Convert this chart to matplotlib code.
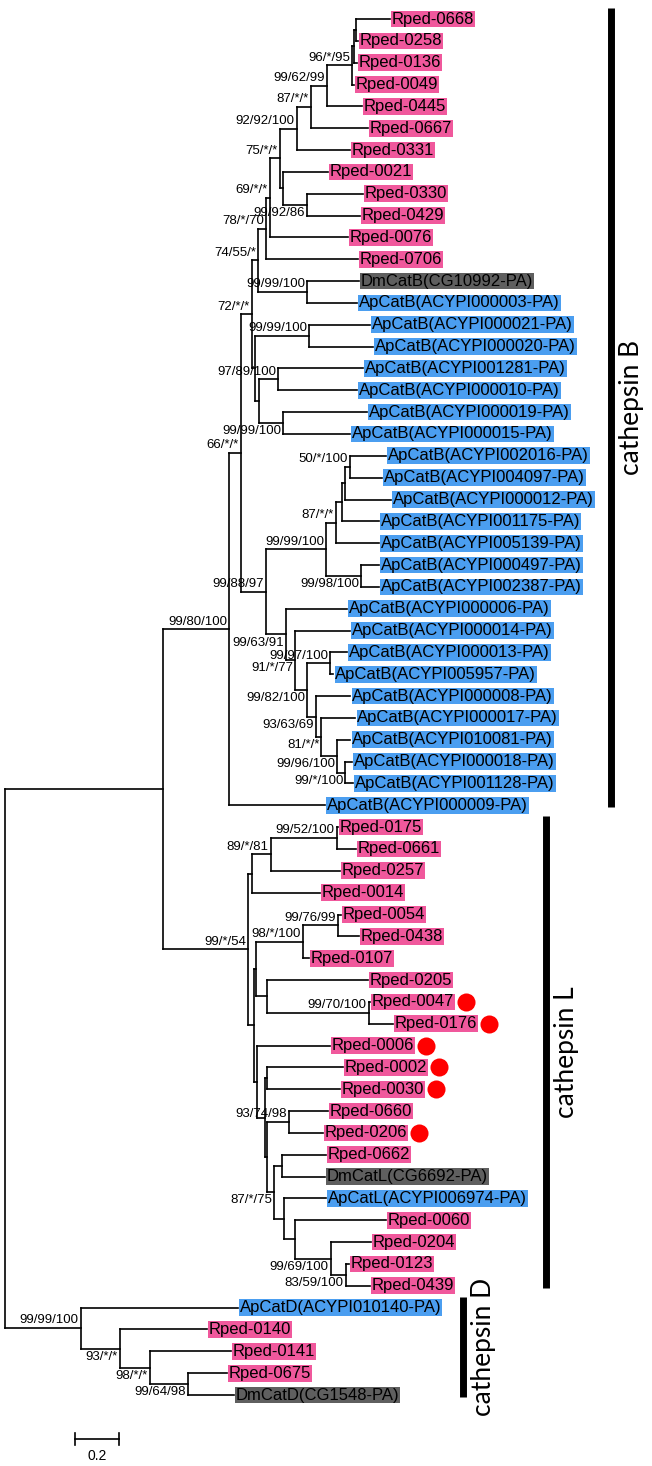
import re
import matplotlib
matplotlib.use('Agg')
import matplotlib.pyplot as plt

plt.rcParams['font.family'] = ['Liberation Sans', 'DejaVu Sans']

# tree in newick form, branch lengths in substitutions/site, node labels are support values
cat_b = (
    "((((((((((((("
    "'Rped-0668':0.155,'Rped-0258':0.009):0.009,"
    "'Rped-0136':0.014):0.009,"
    "'Rped-0049':0.009)'96/*/95':0.114,"
    "'Rped-0445':0.159)'99/62/99':0.073,"
    "'Rped-0667':0.259)'87/*/*':0.064,"
    "'Rped-0331':0.241)'92/92/100':0.077,"
    "('Rped-0021':0.205,('Rped-0330':0.255,'Rped-0429':0.241)'99/92/86':0.109):0.014)'75/*/*':0.045,"
    "'Rped-0076':0.355)'69/*/*':0.018,"
    "'Rped-0706':0.418)'78/*/70':0.036,"
    "('DmCatB(CG10992-PA)':0.236,'ApCatB(ACYPI000003-PA)':0.227)'99/99/100':0.223)'74/55/*':0.027,"
    "(('ApCatB(ACYPI000021-PA)':0.277,'ApCatB(ACYPI000020-PA)':0.291)'99/99/100':0.245,"
    "(('ApCatB(ACYPI001281-PA)':0.386,'ApCatB(ACYPI000010-PA)':0.359)'97/89/100':0.086,"
    "('ApCatB(ACYPI000019-PA)':0.382,'ApCatB(ACYPI000015-PA)':0.305)'99/99/100':0.109)"
    ":0.018):0.014)'72/*/*':0.050,"
    "(((((("
    "'ApCatB(ACYPI002016-PA)':0.164,'ApCatB(ACYPI004097-PA)':0.145)'50/*/100':0.023,"
    "'ApCatB(ACYPI000012-PA)':0.209):0.014,"
    "'ApCatB(ACYPI001175-PA)':0.168):0.027,"
    "'ApCatB(ACYPI005139-PA)':0.195)'87/*/*':0.045,"
    "('ApCatB(ACYPI000497-PA)':0.082,'ApCatB(ACYPI002387-PA)':0.082)'99/98/100':0.159)'99/99/100':0.273,"
    "('ApCatB(ACYPI000006-PA)':0.277,"
    "('ApCatB(ACYPI000014-PA)':0.250,"
    "(('ApCatB(ACYPI000013-PA)':0.077,'ApCatB(ACYPI005957-PA)':0.014)'99/97/100':0.105,"
    "('ApCatB(ACYPI000008-PA)':0.155,"
    "('ApCatB(ACYPI000017-PA)':0.155,"
    "('ApCatB(ACYPI010081-PA)':0.059,"
    "('ApCatB(ACYPI000018-PA)':0.032,'ApCatB(ACYPI001128-PA)':0.036)'99/*/100':0.036)"
    "'99/96/100':0.073)'81/*/*':0.023)'93/63/69':0.041)'99/82/100':0.055)'91/*/77':0.041)'99/63/91':0.091)'99/88/97'"
    ":0.114)'66/*/*':0.055,"
    "'ApCatB(ACYPI000009-PA)':0.436)'99/80/100'"
)

cat_l = (
    "(((('Rped-0175':0.005,'Rped-0661':0.086)'99/52/100':0.300,"
    "'Rped-0257':0.314)'89/*/81':0.086,"
    "'Rped-0014':0.309):0.018,"
    "(((('Rped-0054':0.014,'Rped-0438':0.095)'99/76/99':0.159,"
    "'Rped-0107':0.027)'98/*/100':0.214,"
    "('Rped-0205':0.459,('Rped-0047':0.005,'Rped-0176':0.109)'99/70/100':0.464):0.050):0.009,"
    "('Rped-0006':0.332,"
    "(('Rped-0002':0.345,'Rped-0030':0.332):0.009,"
    "(('Rped-0660':0.177,'Rped-0206':0.155)'93/74/98':0.100,"
    "(('Rped-0662':0.200,'DmCatL(CG6692-PA)':0.195):0.036,"
    "('ApCatL(ACYPI006974-PA)':0.191,"
    "('Rped-0060':0.414,"
    "('Rped-0204':0.182,('Rped-0123':0.014,'Rped-0439':0.109)'83/59/100':0.068)'99/69/100':0.164)"
    ":0.050):0.045)'87/*/75':0.032):0.009):0.036):0.014):0.027)'99/*/54'"
)

cat_d = (
    "('ApCatD(ACYPI010140-PA)':0.714,('Rped-0140':0.395,('Rped-0141':0.368,"
    "('Rped-0675':0.177,'DmCatD(CG1548-PA)':0.209)'99/64/98':0.173)'98/*/*':0.136)'93/*/*':0.177)'99/99/100'"
)

tree_newick = "((" + cat_b + ":0.300," + cat_l + ":0.386):0.718," + cat_d + ":0.345);"

# leaves marked with a red dot
marked_leaves = ['Rped-0047', 'Rped-0176', 'Rped-0006', 'Rped-0002', 'Rped-0030', 'Rped-0206']

# support labels drawn under the branch instead of above (label, first leaf of clade)
below_labels = [('99/92/86', 'Rped-0330'), ('99/99/100', 'ApCatB(ACYPI000019-PA)'),
                ('99/98/100', 'ApCatB(ACYPI000497-PA)'), ('99/63/91', 'ApCatB(ACYPI000006-PA)'),
                ('91/*/77', 'ApCatB(ACYPI000014-PA)'), ('99/82/100', 'ApCatB(ACYPI000013-PA)'),
                ('93/63/69', 'ApCatB(ACYPI000008-PA)'), ('81/*/*', 'ApCatB(ACYPI000017-PA)'),
                ('99/96/100', 'ApCatB(ACYPI010081-PA)'), ('99/*/100', 'ApCatB(ACYPI000018-PA)'),
                ('99/69/100', 'Rped-0204'), ('83/59/100', 'Rped-0123'), ('87/*/75', 'Rped-0662'),
                ('93/*/*', 'Rped-0140'), ('98/*/*', 'Rped-0141'), ('99/64/98', 'Rped-0675')]

# clade bars: name, first leaf, last leaf, x position (tree units)
clades = [('cathepsin B', 'Rped-0668', 'ApCatB(ACYPI000009-PA)', 2.755),
          ('cathepsin L', 'Rped-0175', 'Rped-0439', 2.459),
          ('cathepsin D', 'ApCatD(ACYPI010140-PA)', 'DmCatD(CG1548-PA)', 2.082)]

scale_length = 0.2

box_colors = {'Rped': '#F0589C', 'Ap': '#4B9EF0', 'Dm': '#5F5F5F'}


# parse a newick string with quoted labels into nested dicts
def parse_newick(s):
    tokens = re.findall(r"'[^']*'|[(),:;]|[^(),:;'\s]+", s)
    pos = 0

    def node():
        nonlocal pos
        n = {'children': [], 'label': '', 'length': 0.0}
        if tokens[pos] == '(':
            pos += 1
            n['children'].append(node())
            while tokens[pos] == ',':
                pos += 1
                n['children'].append(node())
            pos += 1
        if tokens[pos] not in ('(', ')', ',', ':', ';'):
            n['label'] = tokens[pos].strip("'")
            pos += 1
        if tokens[pos] == ':':
            n['length'] = float(tokens[pos + 1])
            pos += 2
        return n

    return node()


root = parse_newick(tree_newick)
leaves = []


def layout(n, depth):
    n['x'] = depth + n['length']
    if not n['children']:
        n['y'] = len(leaves)
        n['first'] = n['label']
        leaves.append(n)
        return
    for c in n['children']:
        layout(c, n['x'])
    n['y'] = (n['children'][0]['y'] + n['children'][-1]['y']) / 2
    n['first'] = n['children'][0]['first']


root['length'] = 0.0
layout(root, 0.0)
leaf_row = {lf['label']: lf['y'] for lf in leaves}

fig = plt.figure(figsize=(6.52, 14.66), dpi=100)
ax = fig.add_axes([0, 0, 1, 1])
ax.set_xlim(-5 / 220, 647 / 220)
ax.set_ylim(66.25, -0.87)
ax.axis('off')

lw = 1.2
annots = {}


def draw(n):
    if n['children']:
        ys = [c['y'] for c in n['children']]
        ax.plot([n['x'], n['x']], [min(ys), max(ys)], color='k', lw=lw)
        for c in n['children']:
            ax.plot([n['x'], c['x']], [c['y'], c['y']], color='k', lw=lw)
            draw(c)
        if n['label']:
            below = (n['label'], n['first']) in below_labels
            ax.annotate(n['label'], (n['x'], n['y']), xytext=(-1.5, -1.5 if below else 1.2),
                        textcoords='offset points', ha='right',
                        va='top' if below else 'bottom', fontsize=9.5)
    else:
        prefix = 'Rped' if n['label'].startswith('Rped') else n['label'][:2]
        annots[n['label']] = ax.annotate(
            n['label'], (n['x'], n['y']), xytext=(1.4, 0), textcoords='offset points',
            ha='left', va='center', fontsize=12, color='k',
            bbox=dict(boxstyle='square,pad=0.05', fc=box_colors[prefix], ec='none'))


draw(root)

# clade bars and names
for name, first, last, bx in clades:
    y0 = leaf_row[first] - 0.5
    y1 = leaf_row[last] + 0.1
    ax.plot([bx, bx], [y0, y1], color='k', lw=5, solid_capstyle='butt')
    ax.text(bx + 0.095, (y0 + y1) / 2, name, rotation=90, ha='center', va='center',
            fontsize=19, family=['Lato', 'DejaVu Sans'])

# scale bar
sb_x0, sb_y = 0.318, 65.0
ax.plot([sb_x0, sb_x0 + scale_length], [sb_y, sb_y], color='k', lw=1.2)
for xx in (sb_x0, sb_x0 + scale_length):
    ax.plot([xx, xx], [sb_y - 0.28, sb_y + 0.28], color='k', lw=1.2)
ax.text(sb_x0 + scale_length / 2, sb_y + 0.8, str(scale_length), ha='center', va='center', fontsize=10)

# red dots right of the marked labels
fig.canvas.draw()
renderer = fig.canvas.get_renderer()
inv = ax.transData.inverted()
for name in marked_leaves:
    bb = annots[name].get_bbox_patch().get_window_extent(renderer)
    xd, _ = inv.transform((bb.x1 + 11, bb.y0))
    ax.plot(xd, leaf_row[name], 'o', ms=13, color='#FF0000', mec='none')

fig.savefig('out.png', dpi=100)
